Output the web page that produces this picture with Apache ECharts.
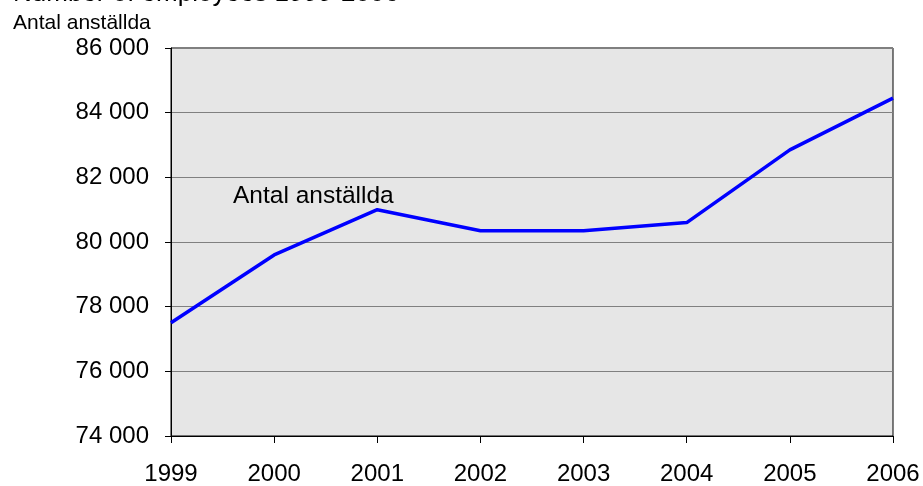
<!DOCTYPE html>
<html>
<head>
<meta charset="utf-8">
<script src="https://cdn.jsdelivr.net/npm/echarts@6/dist/echarts.min.js"></script>
<style>
html,body{margin:0;padding:0;background:#fff;}
#chart{width:923px;height:486px;}
</style>
</head>
<body>
<div id="chart"></div>
<script>
var years = ['1999','2000','2001','2002','2003','2004','2005','2006'];
var employees = [77500, 79600, 81000, 80350, 80350, 80600, 82850, 84450];
var yMin = 74000, yMax = 86000, yStep = 2000;
var titleText = 'Number of employees 1999-2006';
var yAxisTitle = 'Antal anställda';
var seriesName = 'Antal anställda';

var font = 'Liberation Sans, Arial, sans-serif';
var chart = echarts.init(document.getElementById('chart'), null, {renderer:'canvas'});
chart.setOption({
  animation:false,
  backgroundColor:'#ffffff',
  title:[
    {text:titleText, left:13, top:-19, padding:0, textStyle:{fontFamily:font, fontSize:26, fontWeight:'normal', color:'#000'}},
    {text:yAxisTitle, left:13, top:13, padding:0, textStyle:{fontFamily:font, fontSize:21, fontWeight:'normal', color:'#000'}}
  ],
  grid:{left:171, right:30, top:48, bottom:47, show:true, backgroundColor:'#e6e6e6', borderColor:'#000', borderWidth:1},
  xAxis:{
    type:'category', data:years, boundaryGap:false,
    axisLine:{lineStyle:{color:'#000', width:1}},
    axisTick:{show:true, length:7, alignWithLabel:true, lineStyle:{color:'#000'}},
    axisLabel:{margin:26, fontFamily:font, fontSize:24, color:'#000'},
    splitLine:{show:false}
  },
  yAxis:{
    type:'value', min:yMin, max:yMax, interval:yStep,
    axisLine:{show:true, lineStyle:{color:'#000', width:1}},
    axisTick:{show:true, length:6, lineStyle:{color:'#000'}},
    axisLabel:{margin:22, fontFamily:font, fontSize:24, color:'#000',
      formatter:function(v){return String(v).replace(/\B(?=(\d{3})+(?!\d))/g,' ');}},
    splitLine:{show:true, lineStyle:{color:'#808080', width:1}}
  },
  graphic:[
    {type:'text', left:233, top:184, style:{text:seriesName, fontFamily:font, fontSize:24.5, fill:'#000'}}
  ],
  series:[{
    name:seriesName, type:'line', data:employees, symbol:'none',
    lineStyle:{color:'#0000ff', width:3.5}
  }]
});
</script>
</body>
</html>
